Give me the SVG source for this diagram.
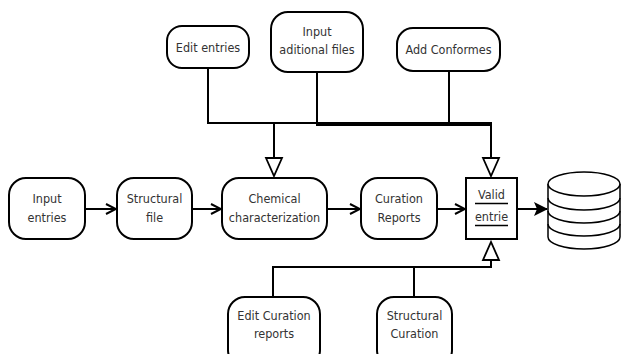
<svg xmlns="http://www.w3.org/2000/svg" width="627" height="354" viewBox="0 0 627 354">
<defs>
<style>
.n{fill:#fff;stroke:#000;stroke-width:2}
.t{font-family:"DejaVu Sans Condensed","DejaVu Sans",sans-serif;font-size:12.5px;fill:#333;text-anchor:middle}
.c{fill:none;stroke:#000;stroke-width:2}
.ah{fill:#fff;stroke:#000;stroke-width:1.8}
</style>
<marker id="v" viewBox="0 0 12 12" refX="11" refY="6" markerWidth="12" markerHeight="12" markerUnits="userSpaceOnUse" orient="auto">
<polyline points="1,1 11,6 1,11" fill="none" stroke="#000" stroke-width="2"/>
</marker>
<marker id="f" viewBox="0 0 14 14" refX="13" refY="7" markerWidth="14" markerHeight="14" markerUnits="userSpaceOnUse" orient="auto">
<polygon points="0,0 14,7 0,14 3,7" fill="#000"/>
</marker>
</defs>
<rect width="627" height="354" fill="#fff"/>
<g id="connectors">
<polyline class="c" points="208,68 208,123 317,123"/>
<line class="c" x1="317" y1="72" x2="317" y2="123"/>
<line x1="316" y1="124" x2="492" y2="124" stroke="#000" stroke-width="4"/>
<line class="c" x1="449" y1="71" x2="449" y2="124"/>
<line class="c" x1="274" y1="123" x2="274" y2="158"/>
<polygon class="ah" points="266,158 282,158 274,176"/>
<line class="c" x1="491" y1="124" x2="491" y2="158"/>
<polygon class="ah" points="483,158 499,158 491,176"/>
<line class="c" x1="85" y1="209" x2="116" y2="209" marker-end="url(#v)"/>
<line class="c" x1="192" y1="209" x2="221" y2="209" marker-end="url(#v)"/>
<line class="c" x1="327" y1="209" x2="360" y2="209" marker-end="url(#v)"/>
<line class="c" x1="437" y1="209" x2="465" y2="209" marker-end="url(#v)"/>
<line class="c" x1="517" y1="209" x2="547" y2="209" marker-end="url(#f)"/>
<polyline class="c" points="273,297 273,267 491,267 491,260"/>
<line class="c" x1="414" y1="267" x2="414" y2="297"/>
<polygon class="ah" points="483,260 499,260 491,242"/>
</g>
<g id="edit-entries"><rect class="n" x="167" y="26" width="82" height="42" rx="15"/><text class="t" x="208" y="51.5">Edit entries</text></g>
<g id="input-additional"><rect class="n" x="271" y="12" width="92" height="60" rx="17"/><text class="t" x="317" y="36">Input</text><text class="t" x="317" y="53.5">aditional files</text></g>
<g id="add-conformes"><rect class="n" x="397" y="28" width="103" height="43" rx="16"/><text class="t" x="448.5" y="54">Add Conformes</text></g>
<g id="input-entries"><rect class="n" x="9" y="178" width="76" height="61" rx="17"/><text class="t" x="47" y="203">Input</text><text class="t" x="47" y="222">entries</text></g>
<g id="structural-file"><rect class="n" x="117" y="178" width="75" height="61" rx="17"/><text class="t" x="154.5" y="203">Structural</text><text class="t" x="154.5" y="222">file</text></g>
<g id="chemical"><rect class="n" x="222" y="178" width="105" height="61" rx="17"/><text class="t" x="274.5" y="203">Chemical</text><text class="t" x="274.5" y="222">characterization</text></g>
<g id="curation-reports"><rect class="n" x="361" y="178" width="76" height="61" rx="17"/><text class="t" x="399" y="203">Curation</text><text class="t" x="399" y="222">Reports</text></g>
<g id="valid-entrie"><rect class="n" x="466" y="178" width="51" height="61" rx="0"/><text class="t" x="491.5" y="199">Valid</text><line x1="475" y1="203.5" x2="508" y2="203.5" stroke="#000" stroke-width="1.5"/><text class="t" x="491.5" y="221">entrie</text><line x1="475" y1="225.5" x2="508" y2="225.5" stroke="#000" stroke-width="1.5"/></g>
<g id="database" fill="#fff" stroke="#000" stroke-width="1.5">
<path d="M548,184 L548,237 A36,12 0 0 0 620,237 L620,184"/>
<ellipse cx="584" cy="184" rx="36" ry="12"/>
<path d="M548,198 A36,12 0 0 0 620,198" fill="none"/>
<path d="M548,211 A36,12 0 0 0 620,211" fill="none"/>
<path d="M548,224 A36,12 0 0 0 620,224" fill="none"/>
</g>
<g id="edit-curation"><rect class="n" x="228" y="297" width="92" height="70" rx="17"/><text class="t" x="274" y="320">Edit Curation</text><text class="t" x="274" y="338">reports</text></g>
<g id="structural-curation"><rect class="n" x="377" y="297" width="75" height="70" rx="17"/><text class="t" x="414.5" y="320">Structural</text><text class="t" x="414.5" y="338">Curation</text></g>
</svg>
